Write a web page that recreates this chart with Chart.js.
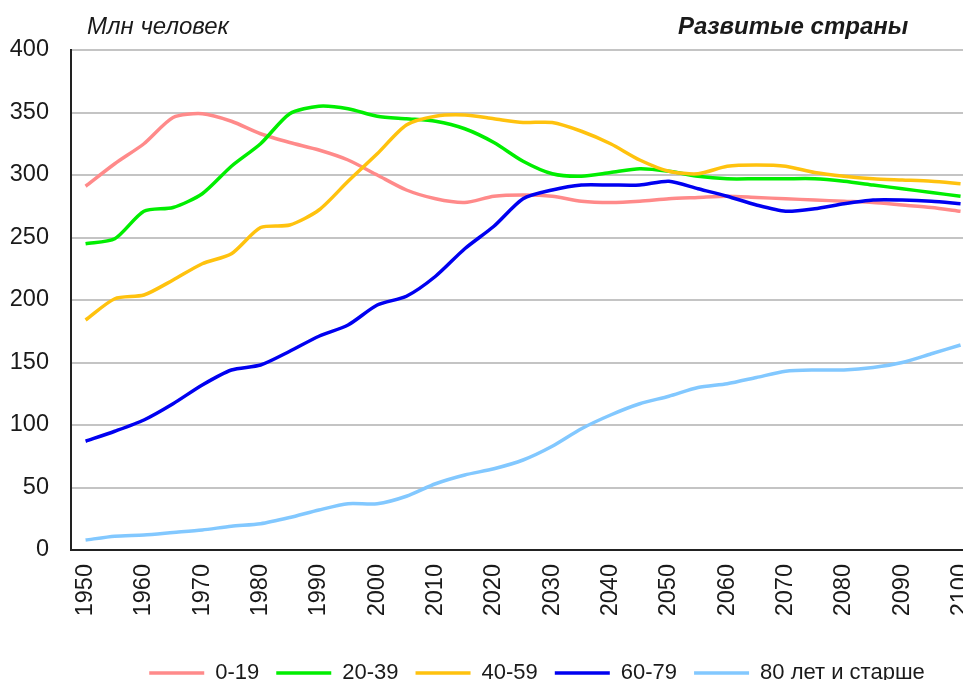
<!DOCTYPE html>
<html>
<head>
<meta charset="utf-8">
<script src="https://cdn.jsdelivr.net/npm/chart.js@4.4.1/dist/chart.umd.min.js"></script>
<style>
  html, body { margin: 0; padding: 0; overflow: hidden; background: #fff; }
</style>
</head>
<body>
<canvas id="canvasAges" width="1003" height="680"></canvas>
<script>
//data, millions of people
var years = ['1950','1955','1960','1965','1970','1975','1980','1985','1990','1995',
  '2000','2005','2010','2015','2020','2025','2030','2035','2040','2045',
  '2050','2055','2060','2065','2070','2075','2080','2085','2090','2095','2100'];

var age0_19 = [291, 309, 325, 346, 349, 343, 333, 326, 320, 312, 300, 288, 281, 278, 283, 284,
  283, 279, 278, 279, 281, 282, 283, 282, 281, 280, 279, 278, 276, 274, 271];
var age20_39 = [245, 249, 271, 274, 285, 307, 325, 349, 355, 353, 347, 345, 343, 337, 326, 311,
  301, 299, 302, 305, 303, 299, 297, 297, 297, 297, 295, 292, 289, 286, 283];
var age40_59 = [184, 201, 204, 216, 229, 237, 258, 260, 272, 295, 317, 340, 347, 348, 345, 342,
  342, 335, 325, 312, 303, 301, 307, 308, 307, 302, 299, 297, 296, 295, 293];
var age60_79 = [87, 95, 104, 117, 132, 144, 148, 159, 171, 180, 196, 203, 219, 241, 259, 281,
  288, 292, 292, 292, 295, 289, 283, 276, 271, 273, 277, 280, 280, 279, 277];
var age80 = [8, 11, 12, 14, 16, 19, 21, 26, 32, 37, 37, 43, 53, 60, 65, 72,
  83, 97, 108, 117, 123, 130, 133, 138, 143, 144, 144, 146, 150, 157, 164];

var seriesNames = ['0-19', '20-39', '40-59', '60-79', '80 лет и старше'];
var unitText = 'Млн человек';
var titleText = 'Развитые страны';

var fontFamily = '"Liberation Sans", Arial, sans-serif';

//make one line dataset
function makeLine(label, data, color, idx) {
  return {
    label: label,
    data: data,
    borderColor: color,
    backgroundColor: color,
    borderWidth: 3.5,
    pointRadius: 0,
    tension: 0.25,
    order: 4 - idx
  };
}

var datasets = [
  makeLine(seriesNames[0], age0_19, '#ff8a8a', 0),
  makeLine(seriesNames[1], age20_39, '#00ee00', 1),
  makeLine(seriesNames[2], age40_59, '#ffc20e', 2),
  makeLine(seriesNames[3], age60_79, '#0000f0', 3),
  makeLine(seriesNames[4], age80, '#82c8ff', 4)
];

//texts above the plot
var headerPlugin = {
  id: 'header',
  afterDraw: function (chart) {
    var ctx = chart.ctx;
    ctx.save();
    ctx.fillStyle = '#1a1a1a';
    ctx.textBaseline = 'middle';
    ctx.textAlign = 'left';
    ctx.font = 'italic 24px ' + fontFamily;
    ctx.fillText(unitText, 87, 27);
    ctx.font = 'italic bold 24px ' + fontFamily;
    ctx.fillText(titleText, 678, 27);
    ctx.restore();
  }
};

//move the legend a bit lower and to the right, like the original
var legendShift = {
  id: 'legendShift',
  afterLayout: function (chart) {
    var lg = chart.legend;
    lg.left += 38; lg.right += 38;
    lg.top += 14; lg.bottom += 14;
  }
};

var tickFont = { family: fontFamily, size: 23.5 };

var config = {
  type: 'line',
  data: { labels: years, datasets: datasets },
  options: {
    responsive: false,
    animation: false,
    devicePixelRatio: 1,
    layout: { padding: { left: 10, right: 15, top: 50, bottom: 0 } },
    plugins: {
      title: { display: false },
      tooltip: { enabled: false },
      legend: {
        position: 'bottom',
        labels: {
          usePointStyle: true,
          pointStyle: 'line',
          pointStyleWidth: 55,
          boxHeight: 4,
          padding: 17,
          color: '#1a1a1a',
          font: { family: fontFamily, size: 22 },
          sort: function (a, b) { return a.datasetIndex - b.datasetIndex; }
        }
      }
    },
    scales: {
      x: {
        type: 'category',
        offset: true,
        grid: { display: false, drawTicks: false },
        border: { color: '#222', width: 2 },
        ticks: {
          autoSkip: false,
          minRotation: 90,
          maxRotation: 90,
          padding: 14,
          color: '#1a1a1a',
          font: tickFont,
          callback: function (v, i) { return i % 2 === 0 ? this.getLabelForValue(v) : ''; }
        },
        afterFit: function (s) { s.height = 81; }
      },
      y: {
        min: 0,
        max: 400,
        grid: { color: '#c4c4c4', lineWidth: 2, drawTicks: false },
        border: { color: '#222', width: 2 },
        ticks: { stepSize: 50, padding: 22, color: '#1a1a1a', font: tickFont },
        afterFit: function (s) { s.width = 61; }
      }
    }
  },
  plugins: [headerPlugin, legendShift]
};

var chart = new Chart(document.getElementById('canvasAges'), config);
</script>
</body>
</html>
